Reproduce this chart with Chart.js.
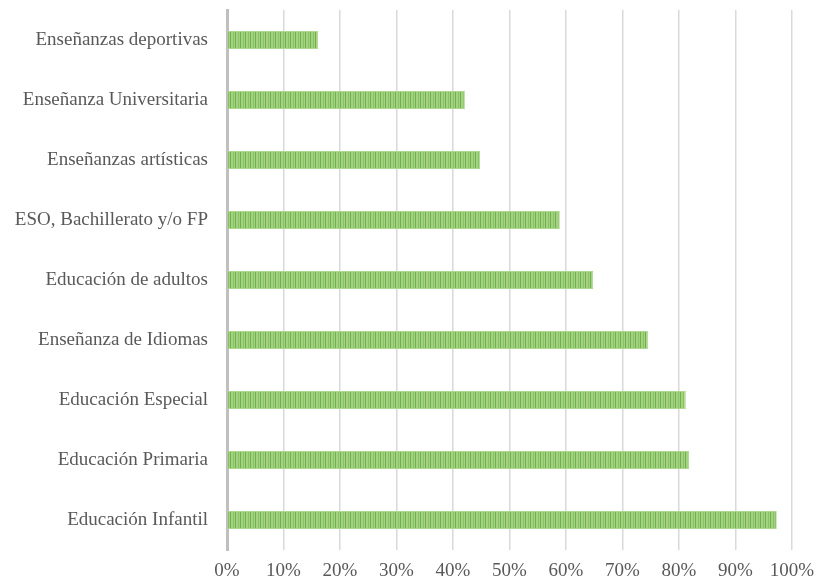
<!DOCTYPE html>
<html>
<head>
<meta charset="utf-8">
<script src="https://cdn.jsdelivr.net/npm/chart.js@4.4.0/dist/chart.umd.min.js"></script>
<style>
  html, body { margin: 0; padding: 0; background: #ffffff; }
  #wrap { width: 820px; height: 582px; }
</style>
</head>
<body>
<div id="wrap"><canvas id="chart" width="820" height="582"></canvas></div>
<script>
// Categories, top to bottom
const categories = [
    'Enseñanzas deportivas',
    'Enseñanza Universitaria',
    'Enseñanzas artísticas',
    'ESO, Bachillerato y/o FP',
    'Educación de adultos',
    'Enseñanza de Idiomas',
    'Educación Especial',
    'Educación Primaria',
    'Educación Infantil'
];

// Share (%) per category
const shares = [16.1, 42.1, 44.8, 58.9, 64.8, 74.5, 81.2, 81.8, 97.3];

// Axis ticks
const tickValues = [0, 10, 20, 30, 40, 50, 60, 70, 80, 90, 100];

// Striped green fill, like the vertical-line pattern in the original
function makeStripePattern(ctx) {
    const p = document.createElement('canvas');
    p.width = 5;
    p.height = 4;
    const pc = p.getContext('2d');
    pc.fillStyle = '#a3d381';
    pc.fillRect(0, 0, 5, 4);
    pc.fillStyle = '#72b04f';
    pc.fillRect(0, 0, 1, 4);
    pc.fillStyle = '#88c264';
    pc.fillRect(3, 0, 1, 4);
    return ctx.createPattern(p, 'repeat');
}

const ctx = document.getElementById('chart').getContext('2d');
const font = { family: '"Liberation Serif", "Times New Roman", serif', size: 19 };

new Chart(ctx, {
    type: 'bar',
    data: {
        labels: categories,
        datasets: [{
            data: shares,
            backgroundColor: makeStripePattern(ctx),
            borderColor: '#acd98e',
            borderWidth: 1,
            barPercentage: 0.3,
            categoryPercentage: 1.0
        }]
    },
    options: {
        indexAxis: 'y',
        responsive: false,
        animation: false,
        layout: { padding: { top: 10, right: 28, left: 0, bottom: 0 } },
        plugins: {
            legend: { display: false },
            tooltip: { enabled: false }
        },
        scales: {
            x: {
                min: 0,
                max: 100,
                afterBuildTicks: function(scale) {
                    scale.ticks = tickValues.map(v => ({ value: v }));
                },
                afterFit: function(scale) {
                    scale.height = 32;
                    scale.paddingLeft = 0;
                    scale.paddingRight = 0;
                },
                border: { display: false },
                grid: {
                    color: '#d9d9d9',
                    lineWidth: 1.5,
                    drawTicks: false
                },
                ticks: {
                    color: '#595959',
                    font: font,
                    padding: 10,
                    callback: function(value) { return value + '%'; }
                }
            },
            y: {
                afterFit: function(scale) {
                    scale.width = 227;
                    scale.paddingTop = 0;
                    scale.paddingBottom = 0;
                },
                border: { display: true, color: '#bfbfbf', width: 3 },
                grid: { display: false },
                ticks: {
                    color: '#595959',
                    font: font,
                    padding: 11
                }
            }
        }
    }
});
</script>
</body>
</html>
